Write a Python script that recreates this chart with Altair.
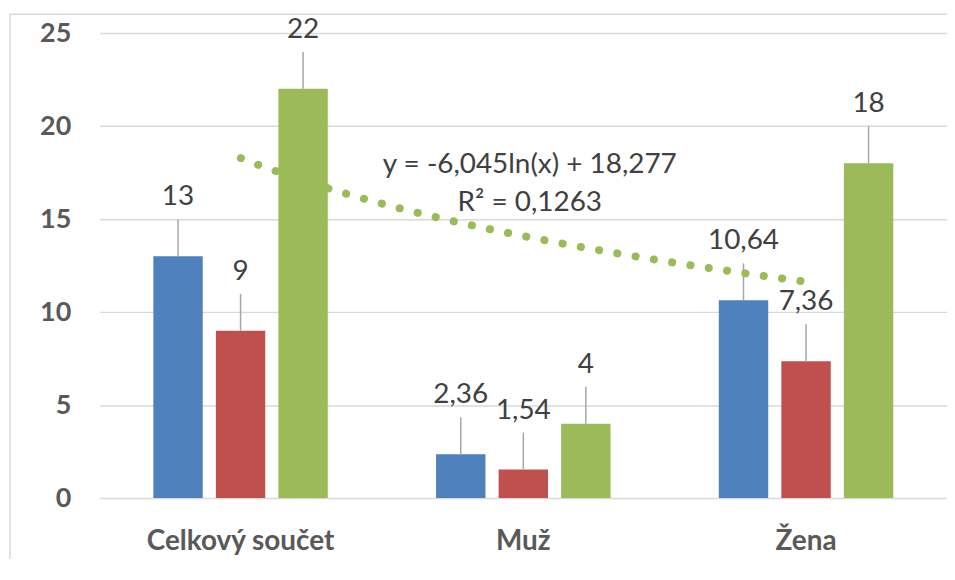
import altair as alt
import pandas as pd

# ---- data ----
categories = ["Celkový součet", "Muž", "Žena"]
series_names = ["Řada 1", "Řada 2", "Řada 3"]
series_colors = ["#4f81bd", "#c0504d", "#9bbb59"]
values_1 = [13, 2.36, 10.64]
values_2 = [9, 1.54, 7.36]
values_3 = [22, 4, 18]
y_ticks = [0, 5, 10, 15, 20, 25]
equation_text = "y = -6,045ln(x) + 18,277"
r2_text = "R² = 0,1263"

rows = []
for s, vals in zip(series_names, [values_1, values_2, values_3]):
    for i, (c, v) in enumerate(zip(categories, vals)):
        rows.append({"kategorie": c, "rada": s, "hodnota": v, "poradi": i + 1})
df = pd.DataFrame(rows)

W, H = 851, 467
FONT = "Lato"
TXT = "#404040"
AX = "#595959"
GRID = "#d9d9d9"

x_band = alt.X(
    "kategorie:N",
    sort=categories,
    scale=alt.Scale(paddingInner=0.383, paddingOuter=0.19),
    axis=alt.Axis(
        title=None, labelAngle=0, labelFont=FONT, labelFontSize=28,
        labelFontWeight="bold", labelColor=AX, labelPadding=30,
        labelLimit=0, domain=False, ticks=False,
    ),
)
x_off = alt.XOffset(
    "rada:N", sort=series_names,
    scale=alt.Scale(paddingInner=0.21, paddingOuter=0),
)
y_enc = alt.Y(
    "hodnota:Q",
    scale=alt.Scale(domain=[0, 25], nice=False),
    axis=alt.Axis(
        values=y_ticks, title=None, domain=False, ticks=False,
        labelFont=FONT, labelFontSize=27, labelFontWeight="bold",
        labelColor=AX, labelPadding=29, gridColor=GRID, gridWidth=1.5,
    ),
)
color = alt.Color(
    "rada:N", sort=series_names,
    scale=alt.Scale(domain=series_names, range=series_colors), legend=None,
)

base = alt.Chart(df)

bars = base.mark_bar().encode(x=x_band, xOffset=x_off, y=y_enc, color=color)

leaders = base.mark_rule(color="#a6a6a6", strokeWidth=1.5, y2Offset=-37).encode(
    x=x_band, xOffset=x_off, y="hodnota:Q", y2="hodnota:Q"
)

labels = base.transform_calculate(
    popisek="replace(toString(datum.hodnota), '.', ',')"
).mark_text(
    dy=-59, baseline="middle", align="center", font=FONT, fontSize=28, color=TXT
).encode(x=x_band, xOffset=x_off, y="hodnota:Q", text="popisek:N")

bar_layer = alt.layer(bars, leaders, labels)

trend = base.transform_filter(
    alt.datum.rada == series_names[2]
).transform_regression(
    "poradi", "hodnota", method="log"
).mark_line(
    color="#9bbb59", strokeWidth=8, strokeCap="round", strokeDash=[0.1, 18.5]
).encode(
    x=alt.X("poradi:Q", scale=alt.Scale(domain=[0.5, 3.5], nice=False, zero=False), axis=None),
    y="hodnota:Q",
)

eq1 = alt.Chart(pd.DataFrame({"t": [equation_text]})).mark_text(
    font=FONT, fontSize=28, color=TXT, align="center", baseline="middle"
).encode(x=alt.value(432), y=alt.value(133), text="t:N")

eq2 = alt.Chart(pd.DataFrame({"t": [r2_text]})).mark_text(
    font=FONT, fontSize=28, color=TXT, align="center", baseline="middle"
).encode(x=alt.value(432), y=alt.value(171), text="t:N")

frame = alt.Chart(pd.DataFrame({"a": [0]})).mark_rect(
    fillOpacity=0, stroke=GRID, strokeWidth=1.5
).encode(
    x=alt.value(-90), x2=alt.value(W + 60), y=alt.value(-19), y2=alt.value(H + 150)
)

chart = alt.layer(frame, bar_layer, trend, eq1, eq2).resolve_scale(
    x="independent"
).properties(
    width=W, height=H,
    autosize=alt.AutoSizeParams(type="none"),
    padding={"left": 92, "top": 24, "right": 0, "bottom": 60},
).configure_view(stroke="transparent")

chart.save("out.html", embed_options={"renderer": "svg", "actions": False})
